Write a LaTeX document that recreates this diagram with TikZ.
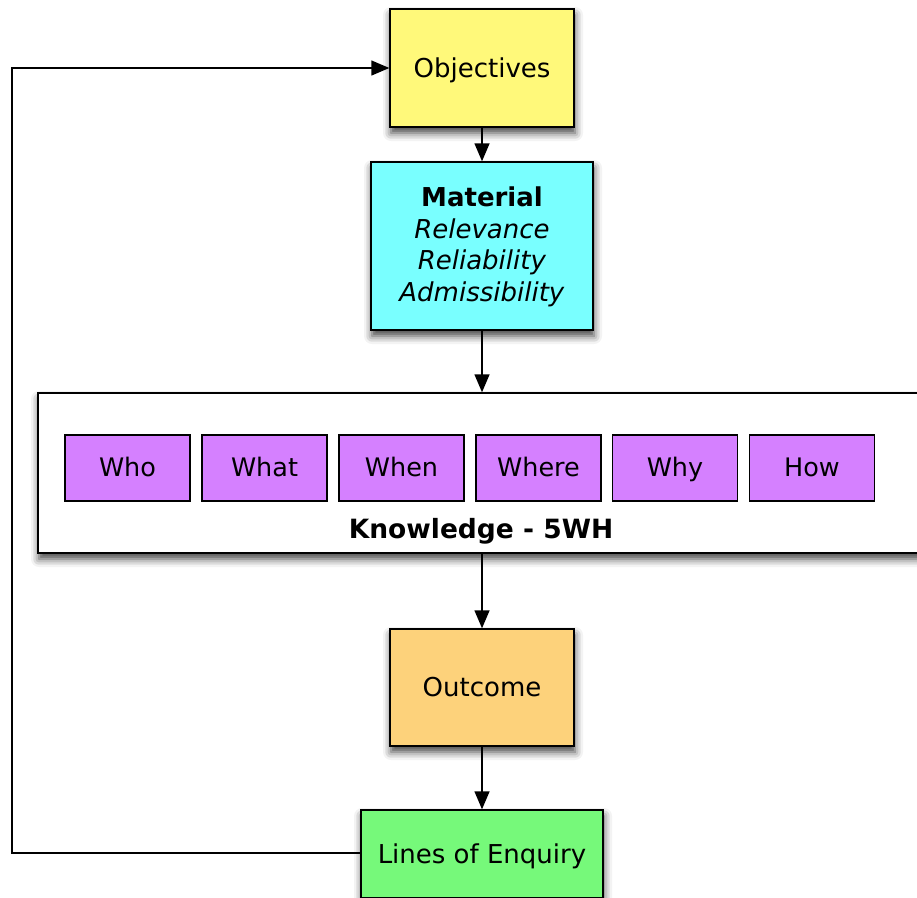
\documentclass[tikz,border=0pt]{standalone}
\usepackage{fontspec}
\setmainfont{DejaVu Sans}
\usetikzlibrary{arrows.meta,shadows.blur}
\definecolor{cobj}{HTML}{FFF97A}
\definecolor{cmat}{HTML}{79FFFF}
\definecolor{cwh}{HTML}{D580FF}
\definecolor{cout}{HTML}{FDD27B}
\definecolor{cloe}{HTML}{76F97A}
\tikzset{
  box/.style={draw=black, line width=1.4pt, rectangle, align=center, inner sep=0pt,
    font=\fontsize{26}{31.5}\selectfont,
    blur shadow={shadow xshift=1pt, shadow yshift=-6pt, shadow blur radius=8pt, shadow opacity=75}},
  whbox/.style={draw=black, line width=1.2pt, fill=cwh, rectangle, inner sep=0pt,
    minimum width=125pt, minimum height=66pt, text height=19pt, text depth=2pt,
    font=\fontsize{25.5}{30}\selectfont},
  arr/.style={line width=1.4pt, -{Triangle[length=18pt,width=15pt]}},
}
\begin{document}
\begin{tikzpicture}[x=1pt,y=-1pt]
\useasboundingbox (0,0) rectangle (917,897);
\clip (0,0) rectangle (917,897);
\node[box, fill=cobj, minimum width=184pt, minimum height=118pt, text height=20pt, text depth=2pt] (obj) at (482,68) {Objectives};
\node[box, fill=cmat, minimum width=222pt, minimum height=168pt, text depth=4pt] (mat) at (482,246)
  {\textbf{Material}\\\textit{Relevance}\\\textit{Reliability}\\\textit{Admissibility}};
\node[box, fill=white, minimum width=888pt, minimum height=160pt] (know) at (482,473) {};
\node[whbox] (who) at (127.5,468) {Who};
\node[whbox] (what) at (264.5,468) {What};
\node[whbox] (when) at (401.5,468) {When};
\node[whbox] (where) at (538.5,468) {Where};
\node[whbox] (why) at (675,468) {Why};
\node[whbox] (how) at (812,468) {How};
\node[anchor=base, inner sep=0pt, font=\fontsize{26.5}{30}\selectfont\bfseries] (klab) at (481,538) {Knowledge - 5WH};
\node[box, fill=cout, minimum width=184pt, minimum height=117pt, text height=20pt, text depth=2pt] (out) at (482,687.5) {Outcome};
\node[box, fill=cloe, minimum width=242pt, minimum height=88pt, text height=20pt, text depth=2pt] (loe) at (482,854) {Lines of Enquiry};
\draw[arr] (obj.south) -- (mat.north);
\draw[arr] (mat.south) -- (mat.south |- know.north);
\draw[arr] (know.south -| out.north) -- (out.north);
\draw[arr] (out.south) -- (loe.north);
\coordinate (fb) at (12,853);
\draw[arr] (loe.west |- fb) -- (fb) |- (obj.west);
\end{tikzpicture}
\end{document}
